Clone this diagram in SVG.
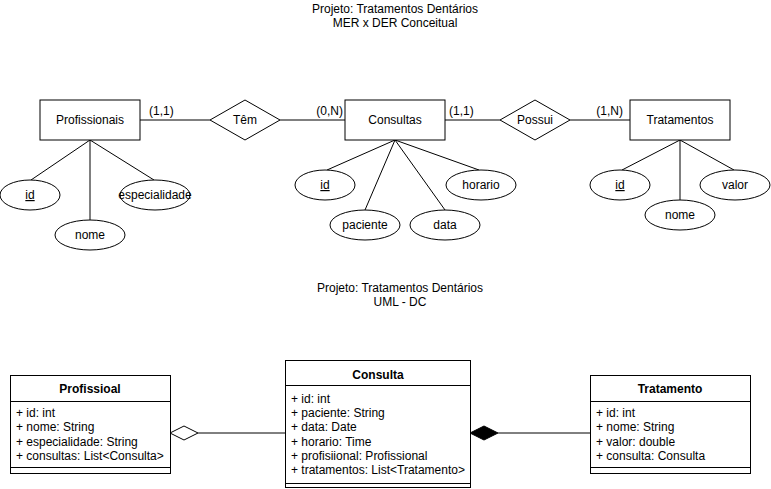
<svg xmlns="http://www.w3.org/2000/svg" width="771" height="489" viewBox="0 0 771 489">
<style>
text{font-family:"Liberation Sans",Arial,Helvetica,sans-serif;font-size:12px;fill:#000}
.c{text-anchor:middle}
.b{font-weight:bold}
.u{text-decoration:underline}
.s{fill:#fff;stroke:#000;stroke-width:1}
.l{stroke:#000;stroke-width:1;fill:none}
</style>
<rect width="771" height="489" fill="#fff"/>
<g id="title1"><text class="c" x="395" y="13">Projeto: Tratamentos Dentários</text><text class="c" x="395" y="27">MER x DER Conceitual</text></g>
<g id="title2"><text class="c" x="400" y="292">Projeto: Tratamentos Dentários</text><text class="c" x="400" y="306">UML - DC</text></g>
<g id="connectors">
<path class="l" d="M140 120H210M280 120H345M445 120H500M570 120H630"/>
<path class="l" d="M90 140L31 180M90 140V220M90 140L154 180"/>
<path class="l" d="M395 140L327 170M395 140L365 210M395 140L445 210M395 140L479 170"/>
<path class="l" d="M680 140L622 170M680 140V200M680 140L734 170"/>
<path class="l" d="M198 433H285M498 433H590"/>
<path class="s" d="M170 433L184 426L198 433L184 440Z"/>
<path d="M470 433L484 426L498 433L484 440Z" fill="#000" stroke="#000"/>
<text x="149" y="115">(1,1)</text>
<text x="343" y="115" text-anchor="end">(0,N)</text>
<text x="449" y="115">(1,1)</text>
<text x="623" y="115" text-anchor="end">(1,N)</text>
</g>
<g id="profissionais"><rect class="s" x="40" y="100" width="100" height="40"/><text class="c" x="90" y="124">Profissionais</text></g>
<g id="tem"><path class="s" d="M210 120L245 100L280 120L245 140Z"/><text class="c" x="245" y="124">Têm</text></g>
<g id="consultas"><rect class="s" x="345" y="100" width="100" height="40"/><text class="c" x="395" y="124">Consultas</text></g>
<g id="possui"><path class="s" d="M500 120L535 100L570 120L535 140Z"/><text class="c" x="535" y="124">Possui</text></g>
<g id="tratamentos"><rect class="s" x="630" y="100" width="100" height="40"/><text class="c" x="680" y="124">Tratamentos</text></g>
<g id="p_id"><ellipse class="s" cx="30" cy="195" rx="30" ry="15"/><text class="c u" x="30" y="199">id</text></g>
<g id="p_nome"><ellipse class="s" cx="90" cy="235" rx="35" ry="15"/><text class="c" x="90" y="239">nome</text></g>
<g id="p_esp"><ellipse class="s" cx="155" cy="195" rx="35" ry="15"/><text class="c" x="155" y="199">especialidade</text></g>
<g id="c_id"><ellipse class="s" cx="325" cy="185" rx="30" ry="15"/><text class="c u" x="325" y="189">id</text></g>
<g id="c_paciente"><ellipse class="s" cx="365" cy="225" rx="35" ry="15"/><text class="c" x="365" y="229">paciente</text></g>
<g id="c_data"><ellipse class="s" cx="445" cy="225" rx="35" ry="15"/><text class="c" x="445" y="229">data</text></g>
<g id="c_horario"><ellipse class="s" cx="481" cy="185" rx="35" ry="15"/><text class="c" x="481" y="189">horario</text></g>
<g id="t_id"><ellipse class="s" cx="620" cy="185" rx="30" ry="15"/><text class="c u" x="620" y="189">id</text></g>
<g id="t_nome"><ellipse class="s" cx="680" cy="215" rx="35" ry="15"/><text class="c" x="680" y="219">nome</text></g>
<g id="t_valor"><ellipse class="s" cx="735" cy="185" rx="35" ry="15"/><text class="c" x="735" y="189">valor</text></g>
<g id="cls_profissioal">
<rect class="s" x="10.5" y="375.5" width="160" height="98"/>
<path class="l" d="M10.5 401.5H170.5M10.5 467.5H170.5"/>
<text class="c b" x="90" y="393">Profissioal</text>
<text x="16" y="417">+ id: int</text>
<text x="16" y="431.4">+ nome: String</text>
<text x="16" y="445.8">+ especialidade: String</text>
<text x="16" y="460.2">+ consultas: List&lt;Consulta&gt;</text>
</g>
<g id="cls_consulta">
<rect class="s" x="285.5" y="360.5" width="185" height="127"/>
<path class="l" d="M285.5 385.5H470.5M285.5 483.5H470.5"/>
<text class="c b" x="378" y="379">Consulta</text>
<text x="291" y="403">+ id: int</text>
<text x="291" y="417.2">+ paciente: String</text>
<text x="291" y="431.4">+ data: Date</text>
<text x="291" y="445.6">+ horario: Time</text>
<text x="291" y="459.8">+ profisiional: Profissional</text>
<text x="291" y="474">+ tratamentos: List&lt;Tratamento&gt;</text>
</g>
<g id="cls_tratamento">
<rect class="s" x="590.5" y="375.5" width="160" height="98"/>
<path class="l" d="M590.5 401.5H750.5M590.5 467.5H750.5"/>
<text class="c b" x="670" y="393">Tratamento</text>
<text x="596" y="417">+ id: int</text>
<text x="596" y="431.4">+ nome: String</text>
<text x="596" y="445.8">+ valor: double</text>
<text x="596" y="460.2">+ consulta: Consulta</text>
</g>
</svg>
